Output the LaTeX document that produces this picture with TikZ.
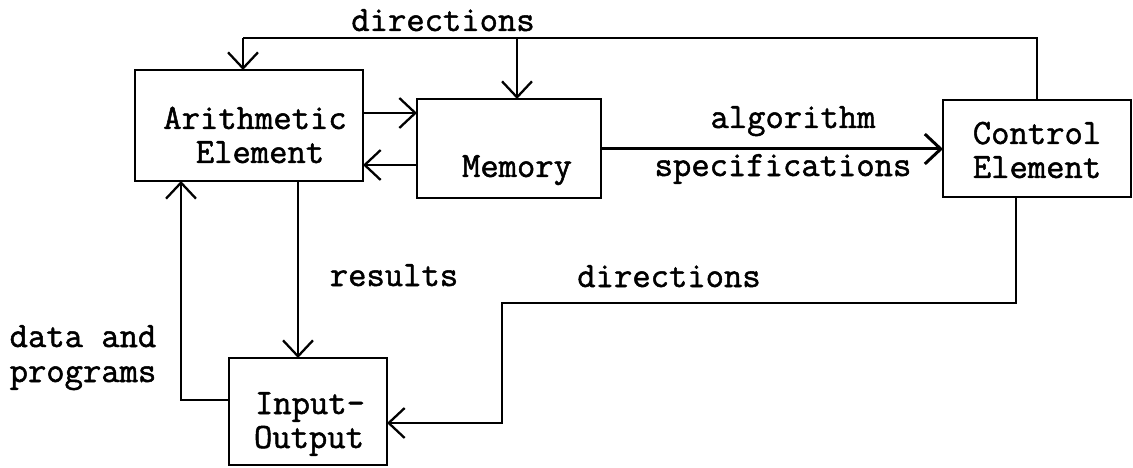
\documentclass[tikz,border=0pt]{standalone}
\usepackage{fontspec}
\newfontfamily\tw{Latin Modern Mono}[FakeBold=1.4]
\usetikzlibrary{arrows.meta}
\begin{document}
\begin{tikzpicture}[x=1pt,y=-1pt,
  box/.style={draw, line width=2.3pt, inner sep=0pt, outer sep=0pt},
  lbl/.style={font=\tw\fontsize{35.6pt}{36pt}\selectfont, inner sep=0pt, anchor=base},
  wire/.style={line width=2.3pt},
  arr/.style={wire, -{Straight Barb[length=16pt,width=30pt]}}]
\useasboundingbox[fill=white] (0,0) rectangle (1133,468);

% boxes
\node[box, minimum width=228pt, minimum height=111pt] (arith) at (249,125.5) {};
\node[box, minimum width=184pt, minimum height=99pt] (mem) at (509,148.5) {};
\node[box, minimum width=188pt, minimum height=97pt] (ctrl) at (1037,148.5) {};
\node[box, minimum width=158pt, minimum height=107pt] (io) at (308,411.5) {};

% box texts
\node[lbl] (arithA) at (255,129) {Arithmetic};
\node[lbl] (arithB) at (260,163) {Element};
\node[lbl] (memT) at (517,177) {Memory};
\node[lbl] (ctrlA) at (1037,144) {Control};
\node[lbl] (ctrlB) at (1037,178) {Element};
\node[lbl] (ioA) at (310,414) {Input-};
\node[lbl] (ioB) at (309,448) {Output};

% connector labels
\node[lbl] (dirTop) at (443,31) {directions};
\node[lbl] (alg) at (793,128) {algorithm};
\node[lbl] (spec) at (783,176) {specifications};
\node[lbl] (res) at (394,286) {results};
\node[lbl] (dirBot) at (669,287) {directions};
\node[lbl] (dataA) at (83,347) {data and};
\node[lbl] (dataB) at (83,382) {programs};

% helper coordinates
\coordinate (tR) at (1037,38);
\coordinate (tL) at (243,38);
\coordinate (tM) at (517,38);
\coordinate (y113) at (0,113);
\coordinate (y165) at (0,165);
\coordinate (y149) at (0,149);
\coordinate (xR) at (298,0);
\coordinate (cD) at (181,400);
\coordinate (c1) at (1016,303);
\coordinate (c2) at (502,303);
\coordinate (y423) at (0,423);

% connectors
\draw[wire] (ctrl.north) -- (tR) -- (tL);
\draw[arr] (tL) -- (tL |- arith.north);
\draw[arr] (tM) -- (tM |- mem.north);
\draw[arr] (arith.east |- y113) -- (mem.west |- y113);
\draw[arr] (mem.west |- y165) -- (arith.east |- y165);
\draw[arr, line width=3pt] (mem.east |- y149) -- (ctrl.west |- y149);
\draw[arr] (arith.south -| xR) -- (io.north -| xR);
\draw[arr] (io.west |- cD) -| (arith.south -| cD);
\draw[arr] (ctrl.south -| c1) -- (c1) -- (c2) -- (c2 |- y423) -- (io.east |- y423);
\end{tikzpicture}
\end{document}
